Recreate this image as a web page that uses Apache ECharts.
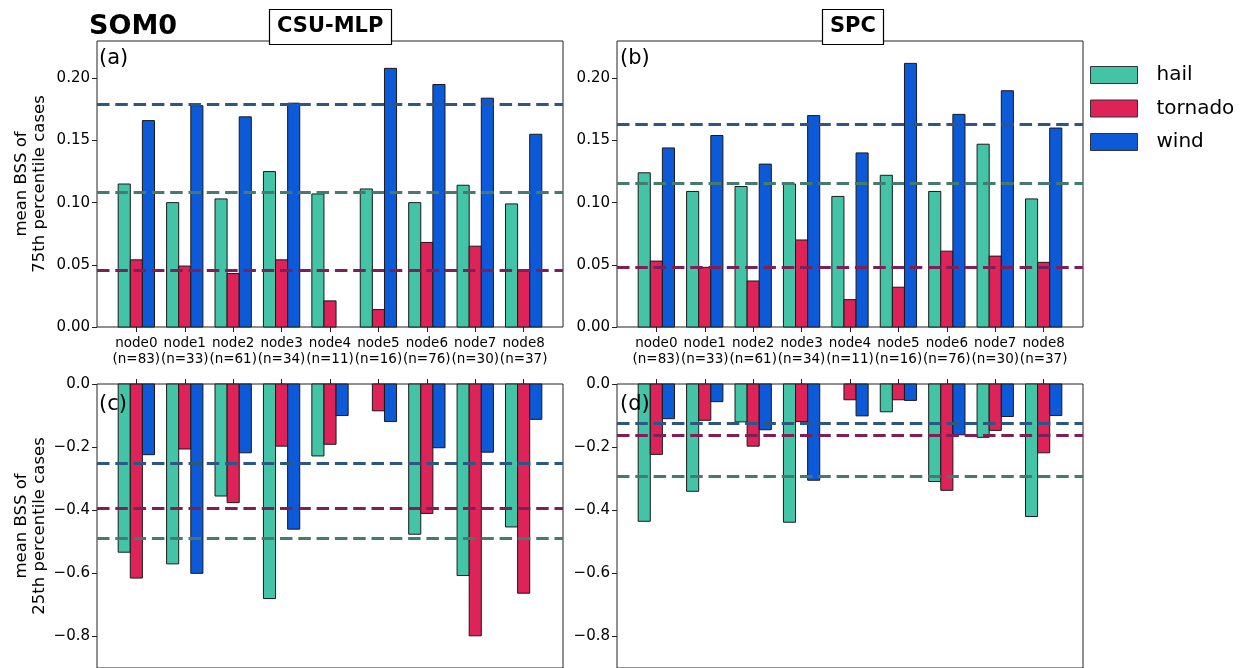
<!DOCTYPE html>
<html>
<head>
<meta charset="utf-8">
<script src="https://cdn.jsdelivr.net/npm/echarts@6/dist/echarts.min.js"></script>
<style>
  html, body { margin: 0; padding: 0; background: #fff; }
  #chart { width: 1245px; height: 668px; }
</style>
</head>
<body>
<div id="chart"></div>
<script>
// SOM node categories and sample sizes
const nodes = ['node0', 'node1', 'node2', 'node3', 'node4', 'node5', 'node6', 'node7', 'node8'];
const caseCounts = [83, 33, 61, 34, 11, 16, 76, 30, 37];

// tick labels
const upperTicks = [0, 0.05, 0.10, 0.15, 0.20];
const lowerTicks = [0, -0.2, -0.4, -0.6, -0.8];

// CSU-MLP, 75th percentile cases
const csuHail75    = [0.115, 0.100, 0.103, 0.125, 0.107, 0.111, 0.100, 0.114, 0.099];
const csuTornado75 = [0.054, 0.049, 0.043, 0.054, 0.021, 0.014, 0.068, 0.065, 0.046];
const csuWind75    = [0.166, 0.178, 0.169, 0.180, null, 0.208, 0.195, 0.184, 0.155];
const csuMean75    = [0.108, 0.046, 0.179];   // hail, tornado, wind

// SPC, 75th percentile cases
const spcHail75    = [0.124, 0.109, 0.113, 0.115, 0.105, 0.122, 0.109, 0.147, 0.103];
const spcTornado75 = [0.053, 0.048, 0.037, 0.070, 0.022, 0.032, 0.061, 0.057, 0.052];
const spcWind75    = [0.144, 0.154, 0.131, 0.170, 0.140, 0.212, 0.171, 0.190, 0.160];
const spcMean75    = [0.116, 0.048, 0.163];

// CSU-MLP, 25th percentile cases
const csuHail25    = [-0.533, -0.570, -0.355, -0.680, -0.228, null, -0.476, -0.607, -0.453];
const csuTornado25 = [-0.615, -0.206, -0.376, -0.197, -0.191, -0.085, -0.410, -0.798, -0.663];
const csuWind25    = [-0.224, -0.600, -0.218, -0.460, -0.100, -0.119, -0.202, -0.216, -0.112];
const csuMean25    = [-0.488, -0.394, -0.250];

// SPC, 25th percentile cases
const spcHail25    = [-0.435, -0.340, -0.120, -0.438, null, -0.088, -0.309, -0.169, -0.420];
const spcTornado25 = [-0.223, -0.115, -0.197, -0.119, -0.050, -0.050, -0.337, -0.147, -0.218];
const spcWind25    = [-0.110, -0.056, -0.145, -0.305, -0.101, -0.052, -0.161, -0.103, -0.100];
const spcMean25    = [-0.292, -0.162, -0.125];

const hazards = ['hail', 'tornado', 'wind'];
const barColors = ['#44C4A6', '#DE2359', '#0C5AD8'];
const meanColors = ['#477A6E', '#7E1F57', '#2D5683'];

const BAR_W = 0.25;
const FONT = 'DejaVu Sans';

const panels = [
  { values: [csuHail75, csuTornado75, csuWind75], means: csuMean75, upper: true },
  { values: [spcHail75, spcTornado75, spcWind75], means: spcMean75, upper: true },
  { values: [csuHail25, csuTornado25, csuWind25], means: csuMean25, upper: false },
  { values: [spcHail25, spcTornado25, spcWind25], means: spcMean25, upper: false }
];

const gridBoxes = [
  { left: 97, top: 41, width: 466, height: 286 },
  { left: 617, top: 41, width: 466, height: 286 },
  { left: 97, top: 384, width: 466, height: 287 },
  { left: 617, top: 384, width: 466, height: 287 }
];

function barItem(offset) {
  return function (params, api) {
    const v = api.value(1);
    if (v == null || isNaN(v)) return null;
    const x = api.value(0) + offset;
    const a = api.coord([x - BAR_W / 2, v]);
    const b = api.coord([x + BAR_W / 2, 0]);
    return {
      type: 'rect',
      shape: {
        x: a[0],
        y: Math.min(a[1], b[1]),
        width: b[0] - a[0],
        height: Math.abs(b[1] - a[1])
      },
      style: { fill: api.visual('color'), stroke: '#1a1a1a', lineWidth: 1 }
    };
  };
}

const nodeIdx = nodes.map((_, i) => i);

const grids = gridBoxes.map(g => Object.assign({
  show: true, borderColor: '#222', borderWidth: 1, containLabel: false
}, g));

const xAxes = panels.map((p, k) => ({
  type: 'value',
  gridIndex: k,
  min: -0.8125,
  max: 8.8125,
  position: p.upper ? 'bottom' : 'top',
  splitLine: { show: false },
  axisLine: { show: false, onZero: false },
  axisTick: {
    show: true, inside: false, length: 5,
    lineStyle: { color: '#222', width: 1 },
    customValues: nodeIdx
  },
  axisLabel: {
    show: p.upper,
    customValues: nodeIdx,
    margin: 8,
    fontFamily: FONT,
    fontSize: 13.5,
    lineHeight: 16,
    color: '#000',
    formatter: v => nodes[Math.round(v)] + '\n(n=' + caseCounts[Math.round(v)] + ')'
  }
}));

const yAxes = panels.map((p, k) => ({
  type: 'value',
  gridIndex: k,
  min: p.upper ? 0 : -0.9,
  max: p.upper ? 0.23 : 0,
  splitLine: { show: false },
  axisLine: { show: false, onZero: false },
  name: k === 0 ? 'mean BSS of\n75th percentile cases'
      : k === 2 ? 'mean BSS of\n25th percentile cases' : '',
  nameLocation: 'middle',
  nameGap: 48,
  nameTextStyle: { fontFamily: FONT, fontSize: 16.5, lineHeight: 18, color: '#000' },
  axisTick: {
    show: true, inside: false, length: 5,
    lineStyle: { color: '#222', width: 1 },
    customValues: p.upper ? upperTicks : lowerTicks
  },
  axisLabel: {
    customValues: p.upper ? upperTicks : lowerTicks,
    margin: 7,
    fontFamily: FONT,
    fontSize: 15,
    color: '#000',
    formatter: v => {
      if (p.upper) return v.toFixed(2);
      return v === 0 ? '0.0' : '\u2212' + Math.abs(v).toFixed(1);
    }
  }
}));

const series = [];
panels.forEach((p, k) => {
  hazards.forEach((hz, h) => {
    series.push({
      type: 'custom',
      name: hz,
      xAxisIndex: k,
      yAxisIndex: k,
      itemStyle: { color: barColors[h] },
      renderItem: barItem((h - 1) * BAR_W),
      encode: { x: 0, y: 1 },
      data: p.values[h].map((v, i) => [i, v == null ? '-' : v]),
      z: 2,
      silent: true
    });
  });
  // mean skill of each hazard across all nodes
  series.push({
    type: 'line',
    name: 'mean',
    xAxisIndex: k,
    yAxisIndex: k,
    data: [],
    silent: true,
    markLine: {
      silent: true,
      symbol: 'none',
      precision: 4,
      animation: false,
      label: { show: false },
      z: 5,
      data: p.means.map((m, h) => ({
        yAxis: m,
        lineStyle: { color: meanColors[h], width: 3, type: [12.5, 5.8], opacity: 1 }
      }))
    }
  });
});

const boxTitle = {
  padding: [6, 8],
  borderColor: '#000',
  borderWidth: 1.2,
  backgroundColor: '#fff',
  textStyle: { fontFamily: FONT, fontSize: 21, fontWeight: 'bold', color: '#000', lineHeight: 24 }
};
const panelTag = {
  padding: 0,
  textStyle: { fontFamily: FONT, fontSize: 21, fontWeight: 'normal', color: '#000' }
};

const option = {
  animation: false,
  textStyle: { fontFamily: FONT },
  title: [
    { text: 'SOM0', left: 89, top: 13, padding: 0,
      textStyle: { fontFamily: FONT, fontSize: 27, fontWeight: 'bold', color: '#000' } },
    Object.assign({ text: 'CSU-MLP', left: 269, top: 9 }, boxTitle),
    Object.assign({ text: 'SPC', left: 822, top: 9 }, boxTitle),
    Object.assign({ text: '(a)', left: 99, top: 48 }, panelTag),
    Object.assign({ text: '(b)', left: 620, top: 48 }, panelTag),
    Object.assign({ text: '(c)', left: 99, top: 394 }, panelTag),
    Object.assign({ text: '(d)', left: 620, top: 394 }, panelTag)
  ],
  legend: {
    data: hazards,
    orient: 'vertical',
    left: 1085,
    top: 60,
    icon: 'rect',
    itemWidth: 47,
    itemHeight: 17,
    itemGap: 13.5,
    selectedMode: false,
    itemStyle: { borderColor: '#333', borderWidth: 1 },
    textStyle: { fontFamily: FONT, fontSize: 20, color: '#000', padding: [0, 0, 0, 14], lineHeight: 17 }
  },
  grid: grids,
  xAxis: xAxes,
  yAxis: yAxes,
  series: series
};

const chart = echarts.init(document.getElementById('chart'), null, { renderer: 'canvas' });
chart.setOption(option);
</script>
</body>
</html>
